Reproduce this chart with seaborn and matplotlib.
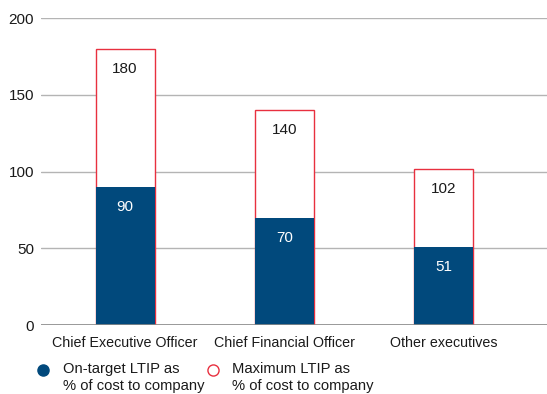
import pandas as pd
import seaborn as sns
import matplotlib.pyplot as plt
from matplotlib.lines import Line2D

roles = ["Chief Executive Officer", "Chief Financial Officer", "Other executives"]
on_target = [90, 70, 51]
maximum = [180, 140, 102]

BLUE = "#01497c"
RED = "#e8303f"

df = pd.DataFrame({"role": roles, "on_target": on_target, "maximum": maximum})

sns.set_style("white")
plt.rcParams["font.family"] = ["Liberation Sans", "DejaVu Sans"]

fig = plt.figure(figsize=(5.47, 3.94), dpi=100)
ax = fig.add_axes([0.075, 0.175, 0.925, 0.779])

# max bar behind, on-target bar drawn over it
sns.barplot(data=df, x="role", y="maximum", ax=ax, color="white",
            edgecolor=RED, linewidth=1.0, width=0.37, saturation=1)
sns.barplot(data=df, x="role", y="on_target", ax=ax, color=BLUE,
            edgecolor=BLUE, linewidth=0, width=0.37, saturation=1)

for i, (m, t) in enumerate(zip(maximum, on_target)):
    ax.annotate(f"{m}", (i, m), xytext=(0, -14.5), textcoords="offset points",
                ha="center", va="center", fontsize=11, color="#1a1a1a")
    ax.annotate(f"{t}", (i, t), xytext=(0, -14.5), textcoords="offset points",
                ha="center", va="center", fontsize=11, color="white")

ax.set_ylim(0, 200)
ax.set_xlim(-0.527, 2.646)
ax.set_yticks([0, 50, 100, 150, 200])
ax.yaxis.grid(True, color="#b4b4b4", linewidth=1.0)
ax.set_axisbelow(True)
for s in ax.spines.values():
    s.set_visible(False)
ax.axhline(0, color="#8a8a8a", linewidth=1.2)
ax.set_xlabel("")
ax.set_ylabel("")
ax.tick_params(axis="both", length=0, labelsize=11, colors="#1a1a1a")
ax.tick_params(axis="x", labelsize=10.3, pad=8)
ax.tick_params(axis="y", pad=5)

# legend built by hand so the markers line up with the first text line
legend_items = [
    (0.079, dict(markerfacecolor=BLUE, markeredgecolor=BLUE),
     "On-target LTIP as\n% of cost to company"),
    (0.389, dict(markerfacecolor="white", markeredgecolor=RED),
     "Maximum LTIP as\n% of cost to company"),
]
for mx, style, label in legend_items:
    fig.add_artist(Line2D([mx], [1 - 370 / 394], marker="o", markersize=8,
                          linestyle="", transform=fig.transFigure, **style))
    fig.text(mx + 0.036, 1 - 362 / 394, label, ha="left", va="top",
             fontsize=10.6, color="#1a1a1a", linespacing=1.28)

fig.savefig("out.png", dpi=100)
